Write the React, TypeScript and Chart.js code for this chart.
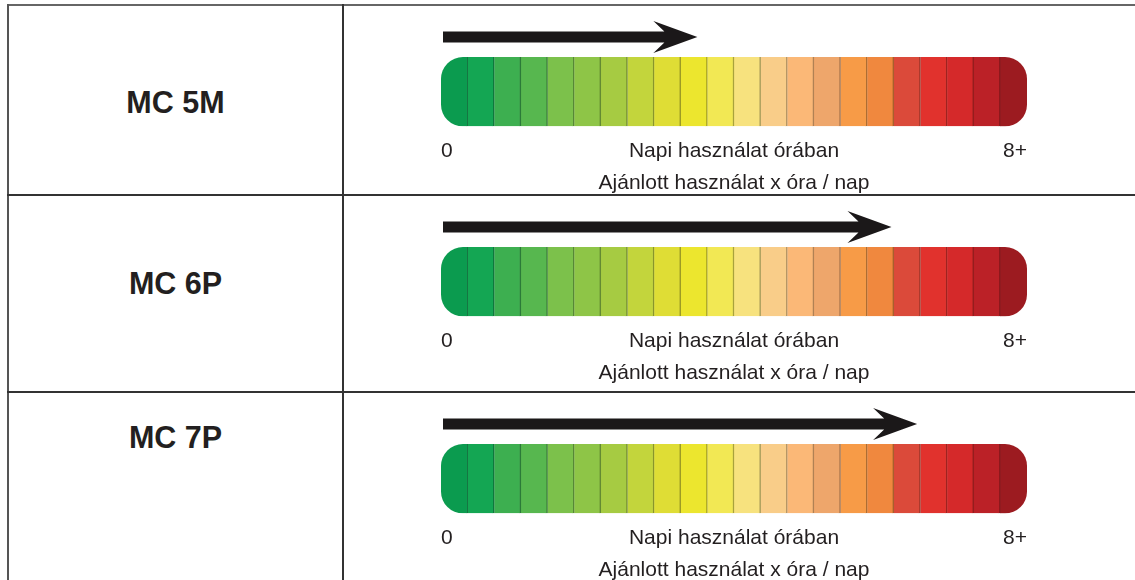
import React, { useEffect, useRef } from 'react';
import { Chart, registerables } from 'chart.js';

Chart.register(...registerables);

// ---------- data ----------
const ROW_LABELS = ['MC 5M', 'MC 6P', 'MC 7P'];
const RECOMMENDED_HOURS = [3.5, 6.15, 6.5];
const SCALE_MIN = 0;
const SCALE_MAX = 8;
const TICK_VALUES = [0, 4, 8];
const TICK_LABELS = ['0', 'Napi használat órában', '8+'];
const AXIS_TITLE = 'Ajánlott használat x óra / nap';
const SEGMENT_COLORS = [
  '#0b9b4f', '#14a653', '#3daf50', '#57b74f', '#7cc14b', '#8ec547',
  '#a6cb42', '#c3d53c', '#dfdd35', '#ece62e', '#f2e854', '#f7e27e',
  '#f9cd89', '#fbb877', '#eea66b', '#f79b47', '#f0883e', '#db4a3a',
  '#e1322d', '#d5292a', '#bb2127', '#9c1b20',
];
const SEGMENT_HOURS = SEGMENT_COLORS.map(() => (SCALE_MAX - SCALE_MIN) / SEGMENT_COLORS.length);

// ---------- layout / style ----------
const FONT = '"Liberation Sans", Arial, Helvetica, sans-serif';
const TEXT = '#231f20';
const ROW_TOPS = [5, 195, 392];
const LABEL_CENTERS_Y = [101.5, 283, 437];
const COL_X = 343;
const CANVAS_W = 1135 - (COL_X + 1);
const CANVAS_H = 192;
const END_RADIUS = 22;

function darken(hex: string, f = 0.7): string {
  const n = parseInt(hex.slice(1), 16);
  const r = Math.round(((n >> 16) & 255) * f);
  const g = Math.round(((n >> 8) & 255) * f);
  const b = Math.round((n & 255) * f);
  return `rgb(${r},${g},${b})`;
}

function Gauge({ hours, top }: { hours: number; top: number }) {
  const ref = useRef<HTMLCanvasElement | null>(null);

  useEffect(() => {
    if (!ref.current) return;
    const last = SEGMENT_COLORS.length - 1;

    const roundClipPlugin = {
      id: 'roundClip',
      beforeDatasetsDraw(chart: any) {
        const first = chart.getDatasetMeta(0).data[0];
        const end = chart.getDatasetMeta(last).data[0];
        if (!first || !end) return;
        const a = first.getProps(['base', 'y', 'height'], true);
        const b = end.getProps(['x'], true);
        const ctx = chart.ctx;
        ctx.save();
        ctx.beginPath();
        ctx.roundRect(a.base, a.y - a.height / 2, b.x - a.base, a.height, END_RADIUS);
        ctx.clip();
      },
      afterDatasetsDraw(chart: any) {
        chart.ctx.restore();
      },
    };

    const arrowPlugin = {
      id: 'usageArrow',
      afterDatasetsDraw(chart: any) {
        const xs = chart.scales.x;
        const bar = chart.getDatasetMeta(0).data[0];
        if (!bar) return;
        const p = bar.getProps(['y', 'height'], true);
        const barTop = p.y - p.height / 2;
        const cy = barTop - 20;
        const x0 = xs.getPixelForValue(SCALE_MIN) + 2;
        const tip = xs.getPixelForValue(hours);
        const ctx = chart.ctx;
        ctx.save();
        ctx.fillStyle = '#1b1819';
        ctx.beginPath();
        ctx.moveTo(x0, cy - 5.5);
        ctx.lineTo(tip - 33, cy - 5.5);
        ctx.lineTo(tip - 44, cy - 16);
        ctx.lineTo(tip, cy);
        ctx.lineTo(tip - 44, cy + 16);
        ctx.lineTo(tip - 33, cy + 5.5);
        ctx.lineTo(x0, cy + 5.5);
        ctx.closePath();
        ctx.fill();
        ctx.restore();
      },
    };

    const chart = new Chart(ref.current, {
      type: 'bar',
      data: {
        labels: ['gauge'],
        datasets: SEGMENT_COLORS.map((c, i) => ({
          label: `s${i}`,
          data: [SEGMENT_HOURS[i]],
          backgroundColor: c,
          borderColor: darken(c),
          borderWidth: i === last ? 0 : { top: 0, bottom: 0, left: 0, right: i === 0 ? 1 : 1.5 },
          borderSkipped: false,
          borderRadius: 0,
          barPercentage: 1,
          categoryPercentage: 1,
        })),
      },
      options: {
        indexAxis: 'y',
        animation: false,
        responsive: false,
        maintainAspectRatio: false,
        devicePixelRatio: 1,
        events: [],
        layout: { padding: { left: 441 - (COL_X + 1), right: 1135 - 1027, top: 52, bottom: 1 } },
        plugins: { legend: { display: false }, tooltip: { enabled: false } },
        scales: {
          x: {
            type: 'linear',
            stacked: true,
            min: SCALE_MIN,
            max: SCALE_MAX,
            grid: { display: false },
            border: { display: false },
            afterBuildTicks: (s: any) => {
              s.ticks = TICK_VALUES.map((v) => ({ value: v }));
            },
            ticks: {
              autoSkip: false,
              maxRotation: 0,
              minRotation: 0,
              align: 'inner',
              padding: 4,
              color: TEXT,
              font: { family: FONT, size: 21 },
              callback: (_v: any, i: number) => TICK_LABELS[i],
            },
            title: {
              display: true,
              text: AXIS_TITLE,
              color: TEXT,
              font: { family: FONT, size: 21 },
              padding: { top: 18, bottom: 0 },
            },
          },
          y: { type: 'category', stacked: true, display: false },
        },
      },
      plugins: [roundClipPlugin, arrowPlugin],
    } as any);

    return () => chart.destroy();
  }, [hours]);

  return (
    <canvas
      ref={ref}
      width={CANVAS_W}
      height={CANVAS_H}
      style={{ position: 'absolute', left: COL_X + 1, top, width: CANVAS_W, height: CANVAS_H }}
    />
  );
}

const line = (style: React.CSSProperties): React.CSSProperties => ({ position: 'absolute', ...style });

export default function App() {
  return (
    <div
      style={{
        position: 'absolute',
        left: 0,
        top: 0,
        width: 1135,
        height: 580,
        overflow: 'hidden',
        background: '#ffffff',
        fontFamily: FONT,
      }}
    >
      {/* table grid */}
      <div style={line({ left: 7, top: 4, width: 1128, height: 2, background: '#666' })} />
      <div style={line({ left: 7, top: 4, width: 2, height: 576, background: '#555' })} />
      <div style={line({ left: COL_X - 1, top: 4, width: 2, height: 576, background: '#333' })} />
      {ROW_TOPS.slice(1).map((t) => (
        <div key={t} style={line({ left: 7, top: t - 1, width: 1128, height: 2, background: '#333' })} />
      ))}

      {ROW_LABELS.map((lbl, i) => (
        <div
          key={lbl}
          style={{
            position: 'absolute',
            left: 9,
            width: COL_X - 10,
            top: LABEL_CENTERS_Y[i] - 20,
            height: 40,
            lineHeight: '40px',
            textAlign: 'center',
            fontWeight: 'bold',
            fontSize: 30.5,
            color: TEXT,
          }}
        >
          {lbl}
        </div>
      ))}

      {RECOMMENDED_HOURS.map((h, i) => (
        <Gauge key={i} hours={h} top={ROW_TOPS[i]} />
      ))}
    </div>
  );
}
